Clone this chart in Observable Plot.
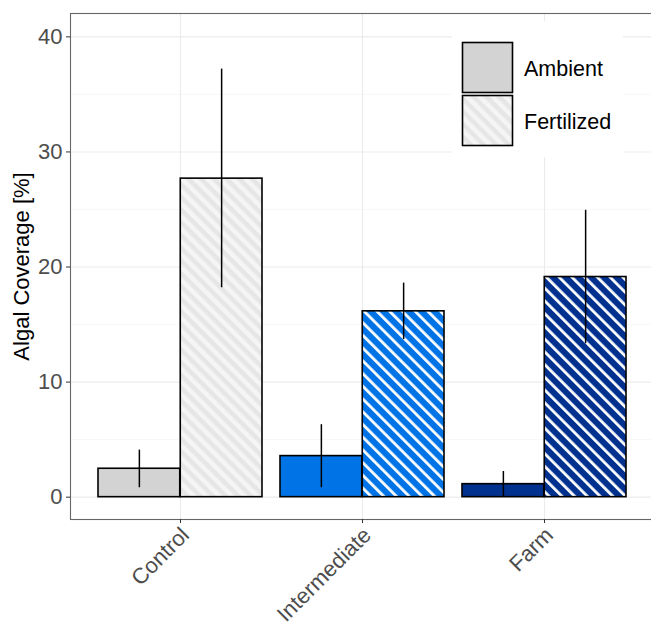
<!DOCTYPE html>
<html>
<head>
<meta charset="utf-8">
<script src="https://cdn.jsdelivr.net/npm/d3@7"></script>
<script src="https://cdn.jsdelivr.net/npm/@observablehq/plot@0.6"></script>
<style>
  html, body { margin: 0; padding: 0; background: white; }
  #wrap { position: relative; width: 651px; height: 625px; overflow: hidden; }
  #legend { position: absolute; left: 452px; top: 21px; }
</style>
</head>
<body>
<div id="wrap"></div>
<script>
// ---- data ----
const categories = ["Control", "Intermediate", "Farm"];
const treatments = ["Ambient", "Fertilized"];
const ambientMean = [2.47, 3.57, 1.13];
const ambientLow  = [0.82, 0.82, 0.02];
const ambientHigh = [4.09, 6.30, 2.23];
const fertMean = [27.68, 16.15, 19.13];
const fertLow  = [18.2, 13.69, 13.34];
const fertHigh = [37.2, 18.6, 24.93];
const colors = ["#d3d3d3", "#0073e6", "#00318f"];
const yTicks = [0, 10, 20, 30, 40];
const yMinorTicks = [5, 15, 25, 35];
const yLabel = "Algal Coverage [%]";

// ---- layout ----
const W = 651, H = 625, ML = 70, MR = -4, MT = 13, MB = 106;
const padIn = 0.0986, padOut = 0.152;
const step = (W - ML - MR) / (categories.length - padIn + 2 * padOut);
const half = step * (1 - padIn) / 2;

const patternId = i => `hatch-${i}`;
const ambient = categories.map((c, i) => ({category: c, treatment: treatments[0], mean: ambientMean[i], low: ambientLow[i], high: ambientHigh[i], fill: colors[i]}));
const fert = categories.map((c, i) => ({category: c, treatment: treatments[1], mean: fertMean[i], low: fertLow[i], high: fertHigh[i], fill: `url(#${patternId(i)})`}));

const font = "'Liberation Sans', Arial, Helvetica, sans-serif";

const chart = Plot.plot({
  width: W, height: H,
  marginLeft: ML, marginRight: MR, marginTop: MT, marginBottom: MB,
  style: {fontFamily: font, fontSize: "22px", background: "white", overflow: "hidden"},
  x: {type: "band", domain: categories, paddingInner: padIn, paddingOuter: padOut, label: null},
  y: {domain: [-1.94, 42.03], label: null},
  color: {type: "identity"},
  marks: [
    Plot.gridY(yMinorTicks, {stroke: "#f2f2f2", strokeWidth: 0.6, strokeOpacity: 1}),
    Plot.gridY(yTicks, {stroke: "#ebebeb", strokeWidth: 1.1, strokeOpacity: 1}),
    Plot.gridX(categories, {stroke: "#ebebeb", strokeWidth: 1.1, strokeOpacity: 1}),
    Plot.barY(ambient, {x: "category", y1: 0, y2: "mean", fill: "fill", stroke: "black", strokeWidth: 1.6, insetLeft: 0, insetRight: half}),
    Plot.barY(fert, {x: "category", y1: 0, y2: "mean", fill: "fill", stroke: "black", strokeWidth: 1.6, insetLeft: half, insetRight: 0}),
    Plot.ruleX(ambient, {x: "category", y1: "low", y2: "high", dx: -half / 2, stroke: "black", strokeWidth: 1.5}),
    Plot.ruleX(fert, {x: "category", y1: "low", y2: "high", dx: half / 2, stroke: "black", strokeWidth: 1.5}),
    Plot.frame({stroke: "#666", strokeWidth: 1.1}),
    Plot.axisY(yTicks, {tickSize: 4, tickPadding: 4, fill: "#4d4d4d", stroke: "#333", label: null, fontSize: 22}),
    Plot.axisX({tickSize: 4, tickFormat: () => "", stroke: "#333", label: null}),
    Plot.axisX({tickSize: 0, tickPadding: 7, tickRotate: -45, dx: 5, dy: 5, fill: "#4d4d4d", label: null, fontSize: 22}),
    Plot.text([yLabel], {frameAnchor: "left", dx: -49, rotate: -90, textAnchor: "middle", lineAnchor: "middle", fill: "black", fontSize: 22})
  ]
});

function addPatterns(svg) {
  const defs = d3.select(svg).insert("defs", ":first-child");
  colors.forEach((c, i) => {
    const p = defs.append("pattern")
      .attr("id", patternId(i))
      .attr("patternUnits", "userSpaceOnUse")
      .attr("width", 9).attr("height", 9)
      .attr("patternTransform", "rotate(-45)");
    if (i === 0) {
      p.append("rect").attr("width", 9).attr("height", 9).attr("fill", "#e6e6e6");
      p.append("rect").attr("width", 4.5).attr("height", 9).attr("fill", "#f5f5f5");
    } else {
      p.append("rect").attr("width", 9).attr("height", 9).attr("fill", c);
      p.append("rect").attr("width", 2.8).attr("height", 9).attr("fill", "white");
    }
  });
}
addPatterns(chart);
document.getElementById("wrap").appendChild(chart);

// ---- legend (inside panel, top right) ----
const leg = d3.select("#wrap").append("div").attr("id", "legend")
  .append("svg").attr("width", 171).attr("height", 136)
  .style("background", "white").style("display", "block");
addPatterns(leg.node());
treatments.forEach((t, i) => {
  leg.append("rect")
    .attr("x", 10.5).attr("y", 21.5 + i * 53)
    .attr("width", 50).attr("height", 50)
    .attr("fill", i === 0 ? colors[0] : `url(#${patternId(0)})`)
    .attr("stroke", "black").attr("stroke-width", 1.6);
  leg.append("text")
    .attr("x", 72).attr("y", 47.5 + i * 53)
    .attr("dy", "0.35em")
    .attr("font-family", font).attr("font-size", 21.5).attr("fill", "black")
    .text(t);
});
</script>
</body>
</html>
